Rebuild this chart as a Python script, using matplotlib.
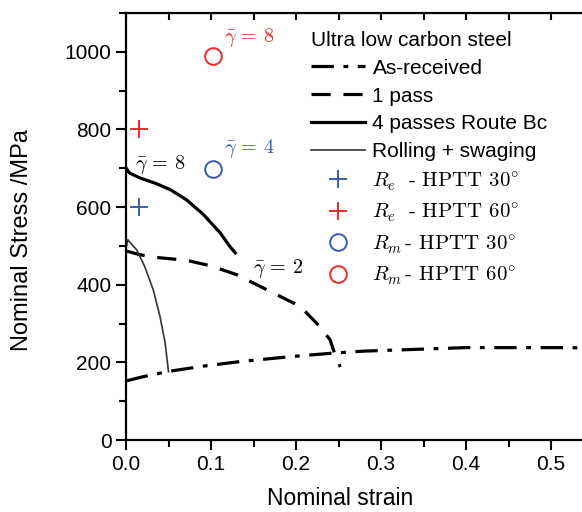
import numpy as np
import matplotlib
matplotlib.use("Agg")
import matplotlib.pyplot as plt
from matplotlib.ticker import MultipleLocator

plt.rcParams['font.family'] = ['Liberation Sans', 'DejaVu Sans']
plt.rcParams['mathtext.fontset'] = 'cm'

# curves (strain, stress MPa)
as_received_x = [0.0, 0.02, 0.048, 0.09, 0.134, 0.19, 0.244, 0.28, 0.322, 0.36, 0.40, 0.44, 0.479, 0.51, 0.55]
as_received_y = [152, 163, 176, 190, 202, 214, 224, 229, 232, 235, 238, 238, 238, 238, 237]

one_pass_x = [0.0, 0.015, 0.032, 0.071, 0.099, 0.130, 0.173, 0.205, 0.228, 0.240, 0.245, 0.252]
one_pass_y = [487, 478, 471, 463, 449, 426, 379, 344, 292, 258, 225, 188]

four_pass_x = [0.0, 0.004, 0.0165, 0.035, 0.052, 0.071, 0.091, 0.111, 0.122, 0.1285]
four_pass_y = [701, 688, 675, 661, 645, 619, 581, 533, 499, 482]

rolling_x = [0.0, 0.002, 0.0125, 0.022, 0.032, 0.040, 0.046, 0.050]
rolling_y = [492, 516, 490, 447, 387, 318, 250, 176]

# HPTT points
re30 = (0.015, 600)
re60 = (0.015, 800)
rm30 = (0.102, 699)
rm60 = (0.102, 990)

blue = '#3a5bb0'
red = '#ee2a2a'

fig = plt.figure(figsize=(5.82, 5.12), dpi=100)
ax = fig.add_axes([126/582, 1 - 440/512, 466/582, 427/512])

ax.plot(as_received_x, as_received_y, color='k', lw=2.3,
        dashes=(7, 3, 1.5, 3), label='As-received')
ax.plot(one_pass_x, one_pass_y, color='k', lw=2.3,
        dashes=(6, 4), label='1 pass')
ax.plot(four_pass_x, four_pass_y, color='k', lw=2.3,
        label='4 passes Route Bc')
ax.plot(rolling_x, rolling_y, color='#333333', lw=1.2,
        label='Rolling + swaging')

ax.plot(*re30, ls='none', marker='+', ms=13, mew=1.4, color=blue,
        label=r'$R_e\ \ \text{- HPTT 30}^{\circ}$')
ax.plot(*re60, ls='none', marker='+', ms=13, mew=1.4, color=red,
        label=r'$R_e\ \ \text{- HPTT 60}^{\circ}$')
ax.plot(*rm30, ls='none', marker='o', ms=12, mew=1.4, mfc='none', color=blue,
        label=r'$R_m\,\text{- HPTT 30}^{\circ}$')
ax.plot(*rm60, ls='none', marker='o', ms=12, mew=1.4, mfc='none', color=red,
        label=r'$R_m\,\text{- HPTT 60}^{\circ}$')

ax.text(0.115, 1037, r'$\bar{\gamma}\,=\,8$', color=red, fontsize=14.5, va='center')
ax.text(0.115, 751, r'$\bar{\gamma}\,=\,4$', color=blue, fontsize=14.5, va='center')
ax.text(0.011, 710, r'$\bar{\gamma}\,=\,8$', color='k', fontsize=14.5, va='center')
ax.text(0.149, 441, r'$\bar{\gamma}\,=\,2$', color='k', fontsize=14.5, va='center')

ax.set_xlim(0, 0.548)
ax.set_ylim(0, 1100)
ax.xaxis.set_major_locator(MultipleLocator(0.1))
ax.xaxis.set_minor_locator(MultipleLocator(0.05))
ax.yaxis.set_major_locator(MultipleLocator(200))
ax.yaxis.set_minor_locator(MultipleLocator(100))
ax.tick_params(which='major', direction='out', length=7, width=1.5, labelsize=15)
ax.tick_params(which='minor', direction='out', length=5, width=1.5)
for s in ax.spines.values():
    s.set_linewidth(1.6)

top = ax.secondary_xaxis('top')
top.xaxis.set_major_locator(MultipleLocator(0.1))
top.xaxis.set_minor_locator(MultipleLocator(0.05))
top.tick_params(which='both', direction='in', length=5, width=1.5, labeltop=False)

ax.set_xlabel('Nominal strain', fontsize=16.5)
ax.set_ylabel('Nominal Stress /MPa', fontsize=17)
ax.xaxis.set_label_coords(0.459, -0.11)
ax.yaxis.set_label_coords(-0.2, 0.468)

leg = ax.legend(loc='upper left', bbox_to_anchor=(311/582, 1 - 31/512),
                bbox_transform=fig.transFigure, frameon=False, fontsize=15,
                title='Ultra low carbon steel', title_fontsize=15,
                alignment='left', borderpad=0, borderaxespad=0,
                handlelength=2.6, handletextpad=0.35, labelspacing=0.42)

fig.savefig('out.png', dpi=100)
